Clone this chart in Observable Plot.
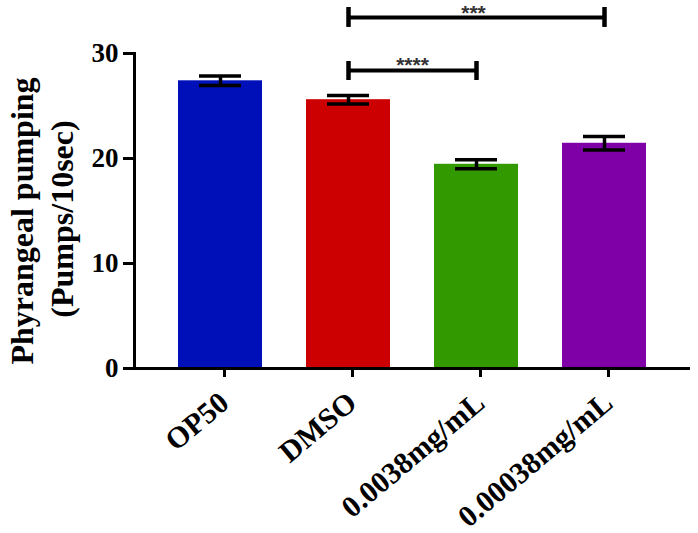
<!DOCTYPE html>
<html>
<head>
<meta charset="utf-8">
<script src="https://cdn.jsdelivr.net/npm/d3@7"></script>
<script src="https://cdn.jsdelivr.net/npm/@observablehq/plot@0.6"></script>
<style>
  html, body { margin: 0; padding: 0; background: #fff; }
  #chart { width: 698px; height: 533px; }
</style>
</head>
<body>
<div id="chart"></div>
<script>
// ---- data ----
const categories = ["OP50", "DMSO", "0.0038mg/mL", "0.00038mg/mL"];
const means = [27.4, 25.6, 19.45, 21.45];
const sems = [0.45, 0.4, 0.42, 0.65];
const colors = ["#0010b8", "#cc0000", "#339900", "#8000a8"];
const yTicks = [0, 10, 20, 30];
const yTitleLines = ["Phyrangeal pumping", "(Pumps/10sec)"];
// significance brackets: from, to, bracket level, tick low, tick high, label, label level, label position
const sigFrom = ["DMSO", "DMSO"];
const sigTo = ["0.00038mg/mL", "0.0038mg/mL"];
const sigLevel = [33.43, 28.38];
const sigTickLow = [32.48, 27.43];
const sigTickHigh = [34.38, 29.24];
const sigLabels = ["***", "****"];
const sigLabelLevel = [34.3, 29.35];
const sigLabelCat = ["0.0038mg/mL", "DMSO"];

const rows = categories.map((c, i) => ({cat: c, mean: means[i], lo: means[i] - sems[i], hi: means[i] + sems[i], color: colors[i]}));
const sig = sigFrom.map((f, i) => ({from: f, to: sigTo[i], level: sigLevel[i], lo: sigTickLow[i], hi: sigTickHigh[i], label: sigLabels[i], ly: sigLabelLevel[i], lx: sigLabelCat[i]}));
const sigEnds = sig.flatMap(s => [{cat: s.from, lo: s.lo, hi: s.hi}, {cat: s.to, lo: s.lo, hi: s.hi}]);

const serif = "'Liberation Serif', 'Times New Roman', serif";
const sans = "'Liberation Sans', Arial, sans-serif";

const chart = Plot.plot({
  width: 698,
  height: 533,
  marginLeft: 134,
  marginRight: 8,
  marginTop: 53,
  marginBottom: 165,
  style: {background: "#fff", fontFamily: serif, overflow: "visible"},
  x: {domain: categories, paddingInner: 0.34, paddingOuter: 0.34, label: null},
  y: {domain: [0, 30], label: null},
  marks: [
    Plot.barY(rows, {x: "cat", y: "mean", fill: "color"}),
    Plot.ruleX(rows, {x: "cat", y1: "lo", y2: "hi", stroke: "#000", strokeWidth: 3.5}),
    Plot.tickY(rows, {x: "cat", y: "lo", stroke: "#000", strokeWidth: 3.5, insetLeft: 21, insetRight: 21}),
    Plot.tickY(rows, {x: "cat", y: "hi", stroke: "#000", strokeWidth: 3.5, insetLeft: 21, insetRight: 21}),
    // significance brackets
    Plot.link(sig, {x1: "from", x2: "to", y1: "level", y2: "level", stroke: "#000", strokeWidth: 4}),
    Plot.ruleX(sigEnds, {x: "cat", y1: "lo", y2: "hi", stroke: "#000", strokeWidth: 4.5}),
    Plot.text(sig.slice(0, 1), {x: "lx", y: "ly", text: "label", fill: "#333", fontSize: 21, fontWeight: "bold", fontFamily: sans, letterSpacing: 1, lineAnchor: "top", dy: -3, dx: -3}),
    Plot.text(sig.slice(1, 2), {x: "lx", y: "ly", text: "label", dx: 64, fill: "#333", fontSize: 21, fontWeight: "bold", fontFamily: sans, letterSpacing: 3, lineAnchor: "top", dy: -3}),
    // axes
    Plot.axisY({ticks: yTicks, tickFormat: d3.format("d"), tickSize: 11, tickPadding: 5, strokeWidth: 3, fontSize: 27, fontWeight: "bold", fontFamily: serif, fill: "#000", label: null}),
    Plot.axisX({tickSize: 9, tickPadding: 21, dx: 4, strokeWidth: 3, tickRotate: -40, fontSize: 30, fontWeight: "bold", fontFamily: serif, fill: "#000", label: null}),
    Plot.frame({anchor: "left", strokeWidth: 3}),
    Plot.ruleY([0], {strokeWidth: 3}),
    // y title
    Plot.text([yTitleLines[0]], {frameAnchor: "left", textAnchor: "middle", text: d => d, rotate: -90, dx: -112, dy: 10, fontSize: 32, fontWeight: "bold", fontFamily: serif, fill: "#000"}),
    Plot.text([yTitleLines[1]], {frameAnchor: "left", textAnchor: "middle", text: d => d, rotate: -90, dx: -72, dy: 8, fontSize: 32, fontWeight: "bold", fontFamily: serif, letterSpacing: 1.5, fill: "#000"})
  ]
});
document.getElementById("chart").appendChild(chart);
</script>
</body>
</html>
